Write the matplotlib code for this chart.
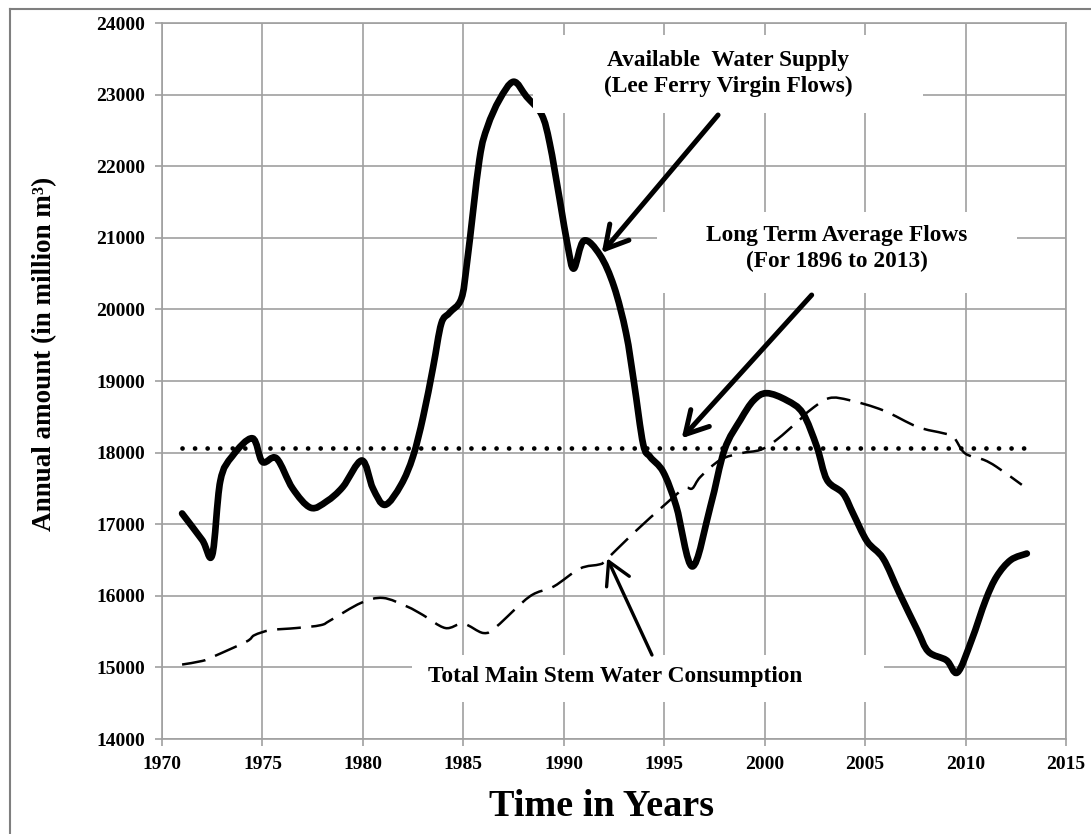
import numpy as np
import matplotlib
matplotlib.use("Agg")
from matplotlib import pyplot as plt
from matplotlib.path import Path
from matplotlib.patches import PathPatch, Rectangle
from matplotlib.lines import Line2D

plt.rcParams["font.family"] = ["Liberation Serif", "DejaVu Serif"]
plt.rcParams["font.weight"] = "bold"

# Available water supply (Lee Ferry virgin flows), million m3
supply_years = [
    1971.0, 1972.0, 1972.5, 1972.9, 1973.5, 1974.5, 1975.0, 1975.7, 1976.5,
    1977.4, 1978.2, 1979.0, 1979.95, 1980.5, 1981.1, 1981.9, 1982.5, 1983.0,
    1983.5, 1983.9, 1984.3, 1984.9, 1985.2, 1985.8, 1986.2, 1986.8, 1987.5,
    1988.15, 1988.9, 1989.3, 1989.8, 1990.2, 1990.5, 1991.0, 1991.8, 1992.5,
    1993.1, 1993.5, 1993.95, 1994.3, 1994.95, 1995.6, 1996.4, 1997.3, 1998.0,
    1998.8, 1999.45, 2000.1, 2001.1, 2001.9, 2002.6, 2003.1, 2003.9, 2004.4,
    2005.1, 2005.9, 2006.7, 2007.6, 2008.15, 2009.05, 2009.6, 2010.3, 2011.0,
    2011.55, 2012.25, 2013.05,
]
supply_values = [
    17150, 16780, 16570, 17600, 17950, 18200, 17870, 17920, 17500,
    17230, 17320, 17520, 17890, 17500, 17270, 17550, 17950, 18500,
    19200, 19800, 19950, 20150, 20690, 22090, 22550, 22930, 23180,
    22970, 22720, 22320, 21530, 20880, 20570, 20960, 20760, 20320,
    19670, 18970, 18120, 17940, 17730, 17250, 16410, 17250, 18040,
    18460, 18730, 18830, 18730, 18550, 18080, 17620, 17430, 17150,
    16760, 16520, 16040, 15520, 15220, 15100, 14930, 15380, 15940,
    16270, 16500, 16590,
]

# Total main stem water consumption, million m3
use_years = [
    1971.0, 1972.0, 1972.55, 1974.2, 1974.6, 1975.4, 1976.7, 1977.9, 1978.4,
    1979.9, 1981.0, 1982.2, 1983.0, 1984.1, 1985.0, 1986.0, 1986.65, 1988.3,
    1989.5, 1990.8, 1991.8, 1992.1, 1993.45, 1995.1, 1996.0, 1996.4, 1996.8,
    1997.8, 1998.8, 1999.8, 2000.6, 2001.75, 2002.25, 2003.2, 2004.25, 2005.9,
    2007.6, 2008.9, 2009.4, 2009.97, 2010.9, 2011.55, 2012.8,
]
use_values = [
    15040, 15090, 15150, 15360, 15450, 15520, 15550, 15590, 15660,
    15900, 15970, 15850, 15730, 15550, 15610, 15480, 15570, 15990,
    16130, 16380, 16440, 16500, 16870, 17290, 17500, 17500, 17660,
    17900, 17990, 18040, 18180, 18460, 18590, 18760, 18730, 18590,
    18360, 18270, 18220, 17990, 17900, 17800, 17550,
]

# Long term average flows (1896 to 2013)
avg_years = [1971, 2013]
avg_values = [18070, 18070]

x_ticks = list(range(1970, 2016, 5))
y_ticks = list(range(14000, 24001, 1000))

GRID = "#a0a0a0"


def smoothed(x, y):
    """Excel style smoothed line: cubic Bezier segments through the points."""
    pts = np.column_stack([x, y]).astype(float)
    pad = np.vstack([pts[:1], pts, pts[-1:]])
    verts = [tuple(pts[0])]
    codes = [Path.MOVETO]
    for i in range(len(pts) - 1):
        p0, p1, p2, p3 = pad[i], pad[i + 1], pad[i + 2], pad[i + 3]
        c1 = p1 + (p2 - p0) / 6.0
        c2 = p2 - (p3 - p1) / 6.0
        verts += [tuple(c1), tuple(c2), tuple(p2)]
        codes += [Path.CURVE4] * 3
    return Path(verts, codes)


fig = plt.figure(figsize=(10.91, 8.34), dpi=100)
ax = fig.add_axes([162 / 1091, 1 - 739 / 834, (1066 - 162) / 1091, (739 - 23) / 834])
ax.set_xlim(1970, 2015)
ax.set_ylim(14000, 24000)
ax.set_xticks(x_ticks)
ax.set_yticks(y_ticks)
ax.grid(True, color=GRID, lw=1.2, zorder=0)
ax.set_axisbelow(True)
for sp in ax.spines.values():
    sp.set_color(GRID)
    sp.set_linewidth(1.2)
ax.tick_params(direction="out", length=5, width=1.2, color=GRID, labelsize=14, pad=7)

# outer chart border (only left and top edges visible)
fig.add_artist(Line2D([10 / 1091, 10 / 1091], [0, 1 - 9 / 834], color="#7f7f7f", lw=1.5))
fig.add_artist(Line2D([10 / 1091, 1], [1 - 9 / 834, 1 - 9 / 834], color="#7f7f7f", lw=1.5))

ax.add_patch(PathPatch(smoothed(supply_years, supply_values), fill=False, ec="black",
                       lw=4.8, capstyle="round", joinstyle="round", zorder=3))
ax.add_patch(PathPatch(smoothed(use_years, use_values), fill=False, ec="black",
                       lw=1.8, linestyle=(0, (9.5, 4.2)), zorder=3))
ax.plot(avg_years, avg_values, color="black", lw=3.4, linestyle=(0, (0.01, 2.65)),
        dash_capstyle="round", zorder=3)

# white text boxes hiding the grid behind the labels
for x0, y0, x1, y1 in [(1988.47, 22743, 2007.88, 23832),
                       (1994.64, 20229, 2012.56, 21360),
                       (1982.44, 14517, 2005.94, 15173)]:
    ax.add_patch(Rectangle((x0, y0), x1 - x0, y1 - y0, fc="white", ec="none", zorder=4))

txt = dict(ha="center", va="center", fontsize=16.8, fontweight="bold", zorder=6)
ax.text(1998.17, 23483, "Available  Water Supply", **txt)
ax.text(1998.17, 23120, "(Lee Ferry Virgin Flows)", **txt)
ax.text(2003.6, 21039, "Long Term Average Flows", **txt)
ax.text(2003.6, 20666, "(For 1896 to 2013)", **txt)
ax.text(1992.55, 14870, "Total Main Stem Water Consumption", **txt)

arrows = [((1997.68, 22715), (1991.89, 20788), 3.6),
          ((2002.34, 20201), (1995.87, 18200), 3.6),
          ((1994.39, 15173), (1992.16, 16524), 2.4)]
for start, tip, w in arrows:
    ax.annotate("", xy=tip, xytext=start, zorder=5,
                arrowprops=dict(arrowstyle="->,head_length=0.8,head_width=0.45",
                                lw=w, color="black", mutation_scale=20,
                                shrinkA=0, shrinkB=0))

fig.text(601.5 / 1091, 1 - 807 / 834, "Time in Years", fontsize=27.5, fontweight="bold",
         ha="center", va="center")
fig.text(45 / 1091, 1 - 353.5 / 834, "Annual amount (in million m³)", fontsize=19.5,
         fontweight="bold", rotation=90, ha="center", va="center")

fig.savefig("out.png", dpi=100, facecolor="white")
